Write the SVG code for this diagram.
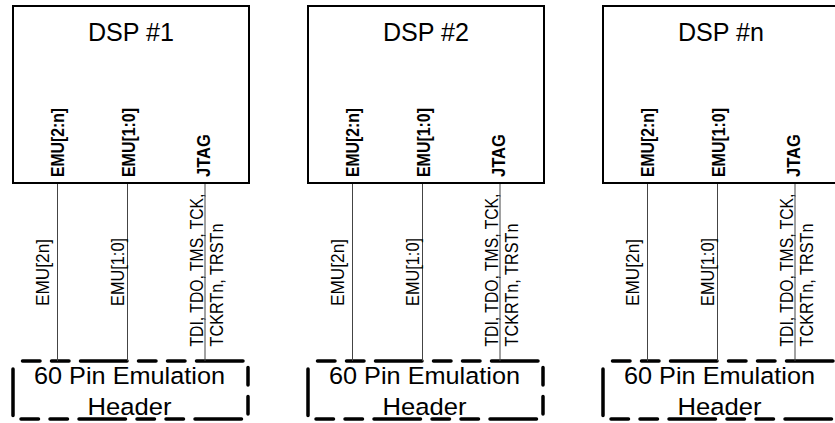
<svg xmlns="http://www.w3.org/2000/svg" width="835" height="423" viewBox="0 0 835 423">
<style>
.box{fill:#fff;stroke:#000;stroke-width:2}
.hdr{fill:none;stroke:#000;stroke-width:3.5;stroke-linecap:round;stroke-dasharray:17.5 11.5 17.5 11.5 46.5 11.5;stroke-dashoffset:106.5}
.title{font-family:"Liberation Sans",Arial,sans-serif;font-size:26px;text-anchor:middle;fill:#000}
.hd{font-family:"Liberation Sans",Arial,sans-serif;font-size:24.5px;text-anchor:middle;fill:#000}
.port{font-family:"Liberation Sans",Arial,sans-serif;font-size:17.5px;font-weight:bold;fill:#000}
.lbl{font-family:"Liberation Sans",Arial,sans-serif;font-size:18px;fill:#000}
.wire{stroke:#444;stroke-width:1;fill:none}
</style>
<rect width="835" height="423" fill="#fff"/>

<g id="dsp1">
<rect class="box" x="13" y="6" width="236" height="177"/>
<text class="title" x="131" y="41" textLength="86" lengthAdjust="spacingAndGlyphs">DSP #1</text>
<text class="port" transform="translate(64,177) rotate(-90)" textLength="69" lengthAdjust="spacingAndGlyphs">EMU[2:n]</text>
<text class="port" transform="translate(135,177) rotate(-90)" textLength="69" lengthAdjust="spacingAndGlyphs">EMU[1:0]</text>
<text class="port" transform="translate(209.5,177) rotate(-90)" textLength="43" lengthAdjust="spacingAndGlyphs">JTAG</text>
</g>
<g id="dsp2" transform="translate(295,0)">
<rect class="box" x="13" y="6" width="236" height="177"/>
<text class="title" x="131" y="41" textLength="86" lengthAdjust="spacingAndGlyphs">DSP #2</text>
<text class="port" transform="translate(64,177) rotate(-90)" textLength="69" lengthAdjust="spacingAndGlyphs">EMU[2:n]</text>
<text class="port" transform="translate(135,177) rotate(-90)" textLength="69" lengthAdjust="spacingAndGlyphs">EMU[1:0]</text>
<text class="port" transform="translate(209.5,177) rotate(-90)" textLength="43" lengthAdjust="spacingAndGlyphs">JTAG</text>
</g>
<g id="dspn" transform="translate(590,0)">
<rect class="box" x="13" y="6" width="236" height="177"/>
<text class="title" x="131" y="41" textLength="86" lengthAdjust="spacingAndGlyphs">DSP #n</text>
<text class="port" transform="translate(64,177) rotate(-90)" textLength="69" lengthAdjust="spacingAndGlyphs">EMU[2:n]</text>
<text class="port" transform="translate(135,177) rotate(-90)" textLength="69" lengthAdjust="spacingAndGlyphs">EMU[1:0]</text>
<text class="port" transform="translate(209.5,177) rotate(-90)" textLength="43" lengthAdjust="spacingAndGlyphs">JTAG</text>
</g>

<g id="header1">
<rect class="hdr" x="13" y="361" width="235" height="58"/>
<text class="hd" x="129.5" y="384" textLength="191" lengthAdjust="spacingAndGlyphs">60 Pin Emulation</text>
<text class="hd" x="129.5" y="415" textLength="84" lengthAdjust="spacingAndGlyphs">Header</text>
</g>
<g id="header2" transform="translate(295,0)">
<rect class="hdr" x="13" y="361" width="235" height="58"/>
<text class="hd" x="129.5" y="384" textLength="191" lengthAdjust="spacingAndGlyphs">60 Pin Emulation</text>
<text class="hd" x="129.5" y="415" textLength="84" lengthAdjust="spacingAndGlyphs">Header</text>
</g>
<g id="headern" transform="translate(590,0)">
<rect class="hdr" x="13" y="361" width="235" height="58"/>
<text class="hd" x="129.5" y="384" textLength="191" lengthAdjust="spacingAndGlyphs">60 Pin Emulation</text>
<text class="hd" x="129.5" y="415" textLength="84" lengthAdjust="spacingAndGlyphs">Header</text>
</g>

<g id="connectors">
<g id="wires1">
<line class="wire" x1="57.5" y1="184" x2="57.5" y2="361"/>
<line class="wire" x1="127.5" y1="184" x2="127.5" y2="361"/>
<line class="wire" x1="205" y1="184" x2="205" y2="361"/>
<text class="lbl" transform="translate(49,306) rotate(-90)" textLength="67" lengthAdjust="spacingAndGlyphs">EMU[2n]</text>
<text class="lbl" transform="translate(124,306) rotate(-90)" textLength="68" lengthAdjust="spacingAndGlyphs">EMU[1:0]</text>
<text class="lbl" transform="translate(203,346.5) rotate(-90)" textLength="153" lengthAdjust="spacingAndGlyphs">TDI, TDO, TMS, TCK,</text>
<text class="lbl" transform="translate(222.5,346.5) rotate(-90)" textLength="123" lengthAdjust="spacingAndGlyphs">TCKRTn, TRSTn</text>
</g>
<g id="wires2" transform="translate(295,0)">
<line class="wire" x1="57.5" y1="184" x2="57.5" y2="361"/>
<line class="wire" x1="127.5" y1="184" x2="127.5" y2="361"/>
<line class="wire" x1="205" y1="184" x2="205" y2="361"/>
<text class="lbl" transform="translate(49,306) rotate(-90)" textLength="67" lengthAdjust="spacingAndGlyphs">EMU[2n]</text>
<text class="lbl" transform="translate(124,306) rotate(-90)" textLength="68" lengthAdjust="spacingAndGlyphs">EMU[1:0]</text>
<text class="lbl" transform="translate(203,346.5) rotate(-90)" textLength="153" lengthAdjust="spacingAndGlyphs">TDI, TDO, TMS, TCK,</text>
<text class="lbl" transform="translate(222.5,346.5) rotate(-90)" textLength="123" lengthAdjust="spacingAndGlyphs">TCKRTn, TRSTn</text>
</g>
<g id="wiresn" transform="translate(590,0)">
<line class="wire" x1="57.5" y1="184" x2="57.5" y2="361"/>
<line class="wire" x1="127.5" y1="184" x2="127.5" y2="361"/>
<line class="wire" x1="205" y1="184" x2="205" y2="361"/>
<text class="lbl" transform="translate(49,306) rotate(-90)" textLength="67" lengthAdjust="spacingAndGlyphs">EMU[2n]</text>
<text class="lbl" transform="translate(124,306) rotate(-90)" textLength="68" lengthAdjust="spacingAndGlyphs">EMU[1:0]</text>
<text class="lbl" transform="translate(203,346.5) rotate(-90)" textLength="153" lengthAdjust="spacingAndGlyphs">TDI, TDO, TMS, TCK,</text>
<text class="lbl" transform="translate(222.5,346.5) rotate(-90)" textLength="123" lengthAdjust="spacingAndGlyphs">TCKRTn, TRSTn</text>
</g>
</g>
</svg>
